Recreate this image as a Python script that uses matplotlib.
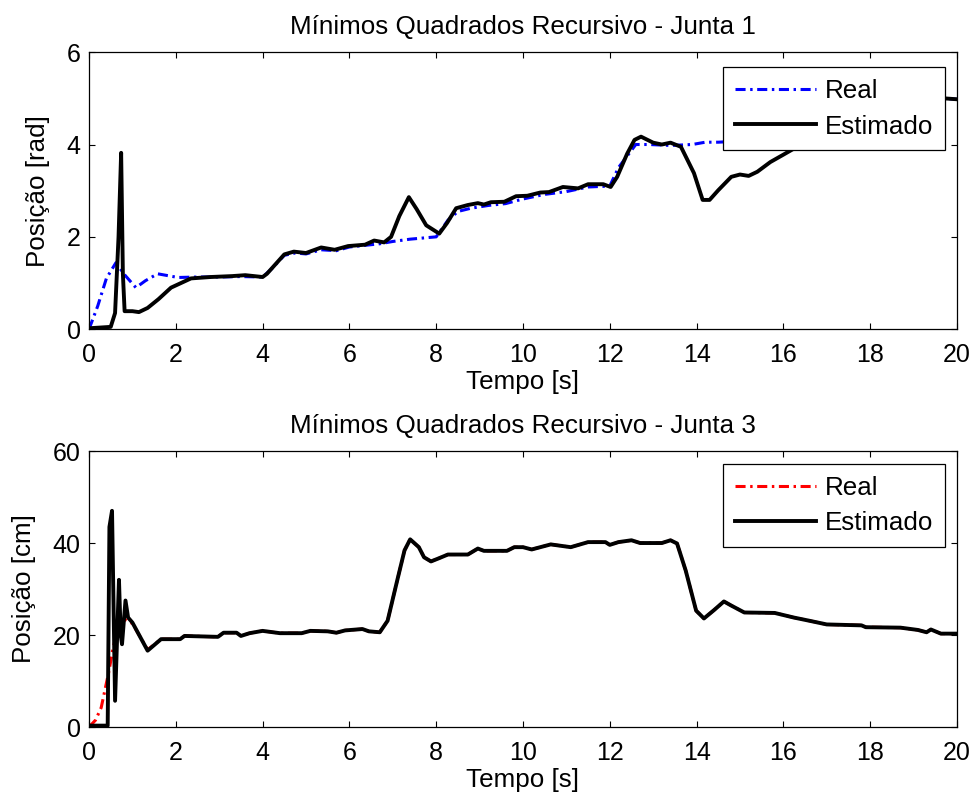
import matplotlib
matplotlib.use('Agg')
import matplotlib.pyplot as plt

plt.rcParams['font.family'] = ['Liberation Sans', 'DejaVu Sans']

# Junta 1 - posicao real (rad)
t1_real = [0, 0.2, 0.4, 0.62, 0.8, 1.08, 1.3, 1.58, 2.05, 2.5, 3.0, 3.5, 4.0, 4.2, 4.5, 4.75,
           5.0, 5.35, 5.7, 6.0, 6.4, 6.7, 7.0, 7.4, 8.0, 8.27, 8.5, 8.8, 9.2, 9.6, 10.0, 10.5,
           11.0, 11.5, 12.0, 12.2, 12.6, 12.9, 13.4, 13.9, 14.2, 14.5, 15.5, 16.5, 17.5, 18.5,
           19.3, 19.7, 20]
y1_real = [0, 0.5, 1.1, 1.44, 1.2, 0.9, 1.05, 1.2, 1.12, 1.13, 1.13, 1.14, 1.13, 1.3, 1.6, 1.65,
           1.63, 1.72, 1.7, 1.78, 1.82, 1.85, 1.9, 1.95, 2.0, 2.36, 2.55, 2.62, 2.68, 2.72, 2.82, 2.92,
           2.98, 3.08, 3.1, 3.5, 4.0, 4.0, 3.98, 4.0, 4.05, 4.05, 4.1, 4.2, 4.5, 4.8,
           4.95, 5.0, 4.98]

# Junta 1 - posicao estimada (rad)
t1_est = [0, 0.5, 0.6, 0.68, 0.74, 0.78, 0.82, 1.0, 1.15, 1.35, 1.6, 1.89, 2.35, 2.8, 3.3, 3.6,
          4.0, 4.1, 4.5, 4.72, 5.0, 5.35, 5.66, 5.97, 6.36, 6.57, 6.8, 6.96, 7.15, 7.37, 7.55, 7.77,
          8.07, 8.25, 8.46, 8.73, 8.96, 9.1, 9.26, 9.57, 9.84, 10.1, 10.4, 10.6, 10.92, 11.27,
          11.5, 11.85, 12.02, 12.17, 12.4, 12.57, 12.72, 13.0, 13.2, 13.4, 13.64, 13.94, 14.14,
          14.3, 14.5, 14.8, 15.0, 15.2, 15.4, 15.7, 16.0, 16.5, 17.5, 18.5, 19.3, 19.7, 20]
y1_est = [0.02, 0.05, 0.35, 2.0, 3.82, 1.2, 0.39, 0.39, 0.37, 0.46, 0.65, 0.9, 1.1, 1.13, 1.15, 1.17,
          1.13, 1.2, 1.62, 1.68, 1.65, 1.77, 1.72, 1.8, 1.83, 1.92, 1.88, 2.0, 2.45, 2.86, 2.6, 2.25,
          2.07, 2.3, 2.62, 2.69, 2.73, 2.7, 2.75, 2.76, 2.88, 2.89, 2.96, 2.97, 3.08, 3.05,
          3.14, 3.14, 3.08, 3.3, 3.8, 4.1, 4.17, 4.04, 4.0, 4.04, 3.95, 3.38, 2.8,
          2.8, 3.01, 3.3, 3.35, 3.32, 3.41, 3.62, 3.78, 4.05, 4.4, 4.8, 4.95, 5.0, 4.98]

# Junta 3 - posicao real (cm)
t3_real = [0, 0.15, 0.28, 0.46, 0.55, 0.65, 0.8, 1.0, 1.35, 1.66, 2.1, 2.2, 2.97, 3.1, 3.4, 3.5,
           3.7, 4.0, 4.4, 4.9, 5.1, 5.5, 5.7, 5.9, 6.3, 6.45, 6.7, 6.88, 7.1, 7.27, 7.4, 7.6,
           7.72, 7.88, 8.04, 8.27, 8.73, 8.96, 9.1, 9.63, 9.8, 10.0, 10.2, 10.64, 11.1, 11.5,
           11.9, 12.0, 12.2, 12.5, 12.7, 13.2, 13.4, 13.55, 13.75, 13.99, 14.17, 14.4, 14.63,
           14.8, 15.1, 15.8, 16.24, 16.6, 17.0, 17.8, 17.9, 18.7, 19.1, 19.3, 19.4, 19.63, 20]
y3_real = [0, 1.5, 4.2, 12.2, 17.0, 21.0, 23.5, 22.5, 16.8, 19.1, 19.1, 19.8, 19.6, 20.5, 20.5, 19.8,
           20.4, 20.9, 20.4, 20.4, 20.9, 20.8, 20.5, 21, 21.3, 20.8, 20.6, 23.1, 31.8, 38.4, 40.8, 39.1,
           36.9, 36.0, 36.6, 37.5, 37.5, 38.8, 38.3, 38.3, 39.1, 39.1, 38.6, 39.7, 39.1, 40.2,
           40.2, 39.6, 40.2, 40.6, 40.0, 40.0, 40.6, 39.9, 34, 25.3, 23.6, 25.4, 27.3,
           26.4, 24.9, 24.8, 23.8, 23.1, 22.3, 22.1, 21.7, 21.6, 21.1, 20.6, 21.2, 20.3, 20.3]

# Junta 3 - posicao estimada (cm)
t3_est = [0, 0.43, 0.47, 0.53, 0.6, 0.69, 0.73, 0.76, 0.84, 0.9, 1.0, 1.35, 1.66, 2.1, 2.2, 2.97,
          3.1, 3.4, 3.5, 3.7, 4.0, 4.4, 4.9, 5.1, 5.5, 5.7, 5.9, 6.3, 6.45, 6.7, 6.88, 7.1,
          7.27, 7.4, 7.6, 7.72, 7.88, 8.04, 8.27, 8.73, 8.96, 9.1, 9.63, 9.8, 10.0, 10.2, 10.64,
          11.1, 11.5, 11.9, 12.0, 12.2, 12.5, 12.7, 13.2, 13.4, 13.55, 13.75, 13.99, 14.17,
          14.4, 14.63, 14.8, 15.1, 15.8, 16.24, 16.6, 17.0, 17.8, 17.9, 18.7, 19.1, 19.3, 19.4,
          19.63, 20]
y3_est = [0.3, 0.3, 43.5, 47, 5.7, 32, 20, 18, 27.5, 23.8, 22.7, 16.6, 19.1, 19.1, 19.8, 19.6,
          20.5, 20.5, 19.8, 20.4, 20.9, 20.4, 20.4, 20.9, 20.8, 20.5, 21, 21.3, 20.8, 20.6, 23.1, 31.8,
          38.4, 40.8, 39.1, 36.9, 36.0, 36.6, 37.5, 37.5, 38.8, 38.3, 38.3, 39.1, 39.1, 38.6, 39.7,
          39.1, 40.2, 40.2, 39.6, 40.2, 40.6, 40.0, 40.0, 40.6, 39.9, 34, 25.3, 23.6,
          25.4, 27.3, 26.4, 24.9, 24.8, 23.8, 23.1, 22.3, 22.1, 21.7, 21.6, 21.1, 20.6, 21.2,
          20.3, 20.3]

x_ticks = [0, 2, 4, 6, 8, 10, 12, 14, 16, 18, 20]
fs_tick = 18
fs = 18.7


def painel(ax, t_real, y_real, t_est, y_est, cor, titulo, ylabel, yticks, leg_y):
    ax.plot(t_real, y_real, color=cor, lw=2.2, dashes=(3.3, 1.5, 0.8, 1.5), label='Real')
    ax.plot(t_est, y_est, color='black', lw=2.8, label='Estimado')
    ax.set_xlim(0, 20)
    ax.set_ylim(yticks[0], yticks[-1])
    ax.set_xticks(x_ticks)
    ax.set_yticks(yticks)
    ax.tick_params(direction='in', top=True, right=True, length=4.5, width=0.8,
                   labelsize=fs_tick)
    ax.tick_params(axis='x', pad=10)
    ax.tick_params(axis='y', pad=6)
    for s in ax.spines.values():
        s.set_linewidth(0.9)
    ax.set_title(titulo, fontsize=fs, pad=13)
    ax.set_xlabel('Tempo [s]', fontsize=fs, labelpad=2)
    ax.set_ylabel(ylabel, fontsize=fs, labelpad=12)
    leg = ax.legend(loc='upper right', bbox_to_anchor=(0.986, leg_y), fontsize=fs,
                    fancybox=False, framealpha=1, edgecolor='black', handlelength=3.1,
                    borderaxespad=0, borderpad=0.45, labelspacing=0.45, handletextpad=0.35)
    leg.get_frame().set_linewidth(0.9)


fig = plt.figure(figsize=(9.73, 7.99), dpi=100)
ax1 = fig.add_axes([0.0915, 0.588, 0.892, 0.3467])
ax2 = fig.add_axes([0.0915, 0.0901, 0.892, 0.3454])

painel(ax1, t1_real, y1_real, t1_est, y1_est, 'blue',
       'Mínimos Quadrados Recursivo - Junta 1', 'Posição [rad]', [0, 2, 4, 6], 0.946)
painel(ax2, t3_real, y3_real, t3_est, y3_est, 'red',
       'Mínimos Quadrados Recursivo - Junta 3', 'Posição [cm]', [0, 20, 40, 60], 0.953)

fig.savefig('out.png', dpi=100)
